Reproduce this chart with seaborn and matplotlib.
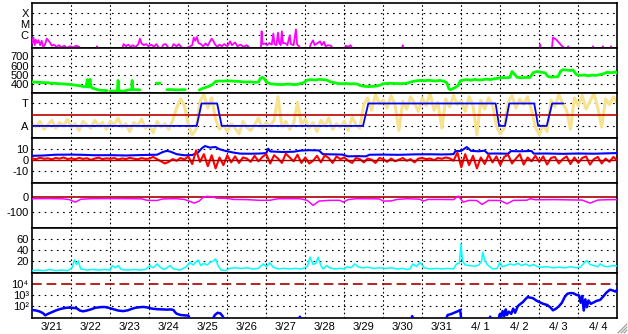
import numpy as np
import pandas as pd
import matplotlib
matplotlib.use('Agg')
import matplotlib.pyplot as plt
import seaborn as sns
from matplotlib.lines import Line2D

NaN = np.nan

# ---------------- data ----------------
day_labels = ['3/21', '3/22', '3/23', '3/24', '3/25', '3/26', '3/27', '3/28',
              '3/29', '3/30', '3/31', '4/ 1', '4/ 2', '4/ 3', '4/ 4']

# X-ray flux (log10 W/m2)
xray_t = [0.00, 0.03, 0.06, 0.09, 0.12, 0.16, 0.20, 0.24, 0.28, 0.33, 0.37, 0.42, 0.46, 0.50,
          0.55, 0.62, 0.68, 0.75, 0.82, 0.88, 0.97, 1.05, 1.12, 1.20, 1.26, 1.64, 1.66, 1.68,
          2.30, 2.34, 2.40, 2.46, 2.52, 2.58, 2.64, 2.72, 2.76, 2.80, 2.86, 2.92, 2.98, 3.05,
          3.12, 3.18, 3.24, 3.30, 3.36, 3.42, 3.48, 3.56, 3.62, 3.70, 3.76, 3.82, 3.92, 4.02,
          4.10, 4.14, 4.18, 4.22, 4.26, 4.32, 4.38, 4.44, 4.50, 4.55, 4.60, 4.64, 4.68, 4.74,
          4.80, 4.86, 4.92, 5.00, 5.07, 5.12, 5.20, 5.26, 5.34, 5.42, 5.50, 5.56, 5.60, 5.86,
          5.88, 5.90, 5.96, 6.02, 6.08, 6.14, 6.18, 6.21, 6.26, 6.30, 6.33, 6.37, 6.40, 6.43,
          6.48, 6.54, 6.60, 6.63, 6.70, 6.76, 6.79, 6.84, 6.88, 7.10, 7.14, 7.20, 7.24, 7.30,
          7.38, 7.42, 7.48, 7.52, 7.58, 7.66, 7.72, 8.00, 8.04, 8.10, 8.16, 8.22, 9.47, 9.50,
          9.53, 13.00, 13.02, 13.05, 13.32, 13.35, 13.43, 13.50, 13.56, 13.62, 13.68, 13.72,
          13.74, 13.77, 14.36, 14.38, 14.41, 14.61, 14.63, 14.66, 14.82, 14.84, 14.87, 15.00]
xray_v = [-6.7, -6.2, -6.9, -6.4, -6.7, -6.45, -6.9, -6.5, -7.1, -6.8, -6.3, -6.5, -6.7, -6.95,
          -6.85, -7.05, -6.9, -7.1, -6.95, -7.15, -7.0, -7.1, -6.95, -7.05, -7.3, -7.3, -7.0, -7.3,
          -7.3, -6.8, -7.0, -6.85, -7.05, -6.9, -7.1, -6.8, -6.3, -6.75, -6.9, -6.8, -7.0, -6.85,
          -7.05, -6.8, -7.1, -7.3, -6.85, -6.8, -7.1, -7.3, -6.8, -7.0, -6.8, -7.1, -7.2, -7.05,
          -6.9, -6.2, -6.5, -6.15, -6.7, -6.8, -7.0, -6.75, -6.95, -6.6, -6.3, -6.5, -6.8, -7.05,
          -6.85, -7.0, -6.8, -7.0, -6.55, -6.9, -6.65, -7.0, -6.85, -7.05, -6.9, -7.1, -7.3, -7.3,
          -5.63, -6.8, -6.75, -6.9, -6.7, -6.85, -5.84, -6.8, -6.9, -5.75, -6.7, -6.9, -5.63, -6.75,
          -6.7, -6.9, -6.0, -6.8, -6.9, -5.45, -6.85, -7.0, -7.3, -7.3, -6.8, -6.46, -6.9, -6.75,
          -6.55, -6.9, -6.6, -7.0, -6.9, -6.95, -7.3, -7.3, -6.95, -7.05, -6.9, -7.3, -7.3, -6.9,
          -7.3, -7.3, -6.83, -7.3, -7.3, -6.2, -6.37, -6.65, -6.9, -7.08, -7.3, -7.3,
          -7.0, -7.3, -7.3, -7.0, -7.3, -7.3, -7.0, -7.3, -7.3, -7.0, -7.3, -7.3]

# Solar wind speed (km/s)
speed_t = [0.00, 0.10, 0.20, 0.30, 0.40, 0.50, 0.60, 0.70, 0.80, 0.90, 1.00, 1.10, 1.20, 1.30,
           1.38, 1.41, 1.44, 1.48, 1.51, 1.55, 1.60, 1.66, 1.75, 1.85, 1.92, 1.93,
           2.00, 2.10, 2.18, 2.20, 2.22, 2.35, 2.46, 2.55, 2.56, 2.58, 2.70, 2.76, 2.77,
           3.18, 3.22, 3.27, 3.28, 3.45, 3.55, 3.65, 3.75, 3.85, 3.92, 3.93,
           4.28, 4.35, 4.45, 4.55, 4.63, 4.70, 4.80, 4.90, 5.00, 5.10, 5.20, 5.30, 5.40, 5.50,
           5.60, 5.70, 5.80, 5.85, 5.90, 5.95, 6.00, 6.10, 6.20, 6.30, 6.40, 6.50, 6.60, 6.70,
           6.80, 6.86, 6.95, 7.05, 7.15, 7.25, 7.35, 7.45, 7.55, 7.65, 7.75, 7.85, 7.95, 8.05,
           8.15, 8.25, 8.35, 8.40, 8.50, 8.60, 8.70, 8.80, 8.92, 9.00, 9.15, 9.30, 9.45, 9.60,
           9.76, 9.85, 9.95, 10.05, 10.15, 10.25, 10.35, 10.45, 10.55, 10.63, 10.68, 10.72, 10.78,
           10.85, 10.92, 10.97, 11.05, 11.15, 11.25, 11.35, 11.45, 11.55, 11.65, 11.75, 11.85,
           11.95, 12.05, 12.15, 12.25, 12.30, 12.35, 12.43, 12.55, 12.65, 12.76, 12.84, 12.94,
           13.05, 13.15, 13.22, 13.30, 13.40, 13.48, 13.55, 13.61, 13.70, 13.80, 13.86, 13.95,
           14.05, 14.15, 14.25, 14.35, 14.45, 14.56, 14.65, 14.74, 14.85, 14.95, 15.00]
speed_v = [420, 416, 414, 412, 410, 405, 403, 400, 398, 393, 390, 384, 378, 370,
           365, 445, 362, 448, 360, 350, 345, 335, 328, 326, 324, NaN,
           320, 319, 320, 436, 320, 318, 332, 334, 436, 334, 334, 332, NaN,
           407, 400, 407, NaN, 334, 336, 333, 332, 335, 334, NaN,
           330, 345, 360, 375, 395, 425, 430, 428, 432, 430, 426, 425, 420, 418,
           420, 415, 418, 460, 470, 455, 420, 400, 395, 392, 390, 394, 395, 390,
           392, 400, 410, 440, 445, 440, 448, 445, 440, 420, 410, 402, 400, 402,
           398, 400, 395, 380, 372, 368, 370, 372, 385, 400, 405, 402, 400, 405,
           425, 432, 436, 432, 438, 434, 430, 436, 428, 410, 345, 334, 345,
           360, 380, 430, 440, 445, 438, 448, 440, 444, 450, 445, 455,
           460, 468, 465, 470, 535, 510, 470, 465, 470, 468, 520, 535,
           525, 520, 480, 472, 475, 478, 540, 554, 550, 545, 552, 500,
           492, 495, 488, 494, 492, 500, 510, 525, 520, 530, 515]

# IMF sector polarity (T = +1, A = -1)
ta_t = [0.02, 4.215, 4.34, 4.74, 4.856, 8.48, 8.615, 11.88, 11.97, 12.12, 12.23,
        12.87, 12.97, 13.19, 13.33, 13.615]
ta_v = [-1, -1, 1, 1, -1, -1, 1, 1, -1, -1, 1, 1, -1, -1, 1, 1]

# raw polarity angle samples (yellow), every 0.1 day
yel_v = [-0.8, -1.1, -0.6, -1.3, -0.9, -0.5, -1.2, -0.7, -1.0, -0.4,
         -1.1, -0.8, -1.4, -0.6, -0.9, -1.2, -0.5, -1.0, -0.7, -1.3,
         -0.6, -0.9, -0.3, -1.1, -0.8, -1.5, -0.7, -1.0, -0.4, -1.2,
         -0.9, -1.6, -0.6, -1.1, -0.8, -1.3, -0.5, 0.6, 1.4, 0.8,
         -0.9, -1.8, -1.3,
         1.2, 1.8, 0.6, 1.5,
         -0.4, -1.3, -0.9,
         -1.5, -0.8, -1.2, -1.7, -0.6, -1.1, -1.4, -0.9, -0.3, -1.2,
         -0.7, -1.0, -0.5, 1.6, -1.1, -0.6, -1.3, -0.8, 1.1, -0.9,
         -0.4, -1.2, -0.7, -1.5, -0.5, -1.0, -0.3, -1.3, -0.8, -1.1,
         -0.6, -1.4, -0.2, -0.9, -1.2,
         0.9, 1.5, 0.4, 1.8, 1.0,
         1.3, 0.6, 1.7, 0.9, -1.4, 1.2, 0.5, 1.6, 1.0, 0.3,
         1.5, 0.8, 1.9, 0.4, 1.1, -1.2, 1.4, 0.7, 1.7, 0.9,
         1.2, 0.3, 1.6, 0.8, -1.8, 1.3, 0.5, 1.5, 0.9,
         -1.0, -1.7, -1.2,
         1.1, 1.7, 0.6, 1.4, 0.9, 1.6, 0.4,
         -1.1, -1.8, -0.9, -1.5,
         1.3, 0.7, 1.8, 1.0, 0.4, -1.3, 1.5, 0.8, 1.7, 0.5, 1.2, 1.9, 0.6, -1.1, 1.4, 0.9, 1.6, 1.0]

# IMF |B| (blue) and Bz (red), nT
bt_t = [0.0, 0.3, 0.6, 1.0, 1.3, 1.6, 2.0, 2.4, 2.8, 3.2, 3.35, 3.45, 3.55, 3.7, 3.9, 4.1, 4.25,
        4.35, 4.43, 4.55, 4.7, 4.8, 4.95, 5.15, 5.33, 5.6, 5.85, 6.0, 6.05, 6.1, 6.4, 6.7, 6.86,
        7.1, 7.35, 7.45, 7.7, 7.95, 8.1, 8.35, 8.55, 8.65, 9.0, 9.4, 9.8, 10.2, 10.5, 10.8,
        10.85, 11.0, 11.14, 11.25, 11.45, 11.6, 11.68, 11.9, 12.2, 12.27, 12.5, 12.8, 12.86,
        13.2, 13.6, 14.0, 14.4, 14.7, 15.0]
bt_v = [3.5, 3.8, 4.5, 4.6, 4.4, 4.0, 4.1, 3.8, 4.2, 4.5, 7.0, 8.0, 7.2, 5.0, 4.0, 4.2, 6.5,
        10.5, 12.4, 11.0, 11.5, 9.5, 8.0, 6.5, 5.5, 5.4, 5.6, 6.0, 10.0, 7.5, 7.0, 7.2, 8.2,
        8.6, 8.4, 5.0, 4.8, 4.6, 3.0, 3.2, 3.0, 4.5, 4.6, 4.4, 4.8, 4.9, 4.7, 5.0,
        7.8, 8.0, 11.5, 8.0, 7.6, 8.2, 5.5, 5.6, 5.4, 7.8, 7.6, 7.9, 5.5,
        5.6, 5.3, 5.6, 5.4, 5.7, 6.0]
bz_v = [1.0, 0.5, 1.8, 0.8, 1.2, 0.3, 1.5, 0.9, 2.0, 0.6, 1.1, 0.4, 1.6, 0.7, 1.3,
        -0.2, 1.0, 1.8, 0.5, 1.2, 0.8, 1.5, 0.2, 1.1, 0.6, 1.7, 0.9, 0.3, 1.4, 0.7,
        1.0, 2.5, 0.4, -1.5, -3.5, -2.0, 0.5, -1.0, 1.5, 0.2,
        3.0, -4.0, 8.5, -2.0, 5.0, -6.0, 4.0, -8.0, 2.0, -5.0,
        4.0, -2.5, 3.0, -3.0, 2.0, 1.0, -2.0, 3.5, -1.5, 2.5,
        5.0, -3.5, 4.0, 1.0, -3.0, 5.5, 2.0, -1.5, 4.5, -3.0,
        2.0, -3.5, -1.0, 3.5, -2.5, 4.0, 1.5, -3.0, 3.0, 0.5,
        2.0, -1.0, -3.0, 1.5, 0.5, -2.5, 1.0, 0.0, -3.0, 1.5,
        0.5, -2.0, 1.0, -1.5, 0.0, 1.5, -1.0, 0.5, -2.5, 1.0,
        1.5, 0.5, 1.0, -0.5, 1.5, 0.8, 2.0, 1.2, -1.0, 6.5,
        -7.0, 5.0, -5.0, 3.5, -8.0, 2.0, -4.0, 4.5, -2.5, 3.0,
        -5.0, 2.5, 4.5, -3.5, 1.0, 5.0, -4.5, 2.0, -1.5, 3.5,
        -2.0, 3.0, -4.5, 1.5, 2.5, -3.5, 0.5, 3.0, -4.0, 2.0,
        -3.0, 1.5, 3.0, -4.5, 0.5, 2.5, -3.5, 1.0, -2.0, 2.5, -1.0]

# Dst index (nT)
dst_t = [0.0, 0.4, 0.8, 0.95, 1.1, 1.25, 1.5, 2.0, 2.5, 2.8, 2.95, 3.2, 3.35, 3.7, 3.9, 4.05,
         4.15, 4.28, 4.38, 4.47, 4.6, 4.73, 5.0, 5.16, 5.5, 5.84, 6.1, 6.3, 6.86, 7.05, 7.2,
         7.35, 7.6, 7.89, 7.97, 8.1, 8.3, 8.9, 9.0, 9.2, 9.35, 9.6, 9.94, 10.02, 10.15, 10.5,
         10.8, 10.92, 11.05, 11.2, 11.4, 11.53, 11.7, 12.0, 12.17, 12.34, 12.68, 12.77, 12.9,
         13.4, 13.8, 14.1, 14.3, 14.5, 14.7, 15.0]
dst_v = [-9, -8, -10, -15, -32, -12, -9, -8, -9, -10, -20, -21, -10, -9, -14, -28,
         -39, -25, 0, 7, 5, -5, -7, -14, -15, -20, -19, -9, -9, -20, -54,
         -25, -20, -20, -32, -15, -9, -10, -25, -24, -14, -9, -12, -25, -14, -14,
         -15, 9, -32, -20, -21, -48, -20, -21, -43, -20, -19, -9, -16,
         -15, -17, -18, -39, -18, -16, -15]

# Solar wind density (p/cc)
dens_t = [0.0, 0.15, 0.3, 0.45, 0.6, 0.75, 0.9, 1.02, 1.08, 1.13, 1.18, 1.24, 1.4, 1.55, 1.7,
          1.85, 2.0, 2.05, 2.12, 2.2, 2.28, 2.45, 2.6, 2.75, 2.9, 3.02, 3.1, 3.2, 3.28, 3.37,
          3.45, 3.53, 3.62, 3.79, 3.95, 4.04, 4.12, 4.25, 4.32, 4.4, 4.48, 4.56, 4.64, 4.7,
          4.76, 4.84, 4.95, 5.05, 5.2, 5.35, 5.5, 5.65, 5.8, 5.92, 6.0, 6.09, 6.18, 6.3, 6.45,
          6.6, 6.75, 6.9, 7.05, 7.12, 7.2, 7.27, 7.33, 7.4, 7.46, 7.55, 7.62, 7.75, 7.9, 8.0,
          8.07, 8.17, 8.27, 8.35, 8.45, 8.6, 8.75, 8.9, 9.05, 9.2, 9.35, 9.5, 9.6, 9.68, 9.76,
          9.85, 9.94, 10.05, 10.2, 10.35, 10.5, 10.65, 10.8, 10.88, 10.95, 10.99, 11.03, 11.1,
          11.2, 11.35, 11.45, 11.52, 11.55, 11.6, 11.66, 11.8, 11.92, 11.99, 12.05, 12.15,
          12.25, 12.35, 12.45, 12.55, 12.65, 12.75, 12.85, 12.95, 13.05, 13.2, 13.35, 13.5,
          13.65, 13.8, 13.95, 14.05, 14.15, 14.22, 14.3, 14.4, 14.5, 14.56, 14.65, 14.75,
          14.89, 15.0]
dens_v = [3, 4, 3, 5, 3, 4, 3, 8, 22, 14, 20, 6, 4, 5, 4,
          5, 4, 12, 8, 12, 5, 4, 5, 4, 5, 12, 8, 15, 9, 5,
          8, 12, 6, 4, 10, 18, 13, 22, 12, 16, 13, 18, 20, 24,
          12, 4, 3, 7, 8, 7, 8, 6, 7, 15, 10, 17, 9, 6, 7,
          6, 7, 6, 10, 27, 14, 16, 27, 12, 6, 12, 8, 6, 7, 6,
          10, 8, 15, 10, 8, 9, 7, 8, 7, 8, 6, 7, 5, 6, 15,
          10, 18, 8, 6, 7, 6, 7, 6, 15, 16, 51, 20, 13,
          12, 11, 13, 20, 36, 22, 14, 6, 7, 18, 10, 12,
          15, 13, 16, 12, 15, 11, 14, 10, 9, 10, 8, 9,
          8, 10, 8, 9, 17, 21, 14, 12, 10, 15, 11, 10,
          12, 11]

# >2 MeV electron flux (log10)
elec_t = [0.0, 0.1, 0.2, 0.28, 0.33, 0.4, 0.5, 0.6, 0.71, 0.8, 0.9, 1.0, 1.14, 1.22, 1.3, 1.4,
          1.5, 1.62, 1.74, 1.85, 1.95, 2.1, 2.2, 2.33, 2.45, 2.55, 2.65, 2.76, 2.85, 2.94, 3.05,
          3.2, 3.35, 3.45, 3.55, 3.62, 3.66, 3.7, 3.8, 3.9, 4.0, 4.05, 4.06,
          4.62, 4.68, 4.75, 4.82, 4.88, 4.92, 4.93,
          6.84, 6.86, 6.88, 6.89,
          9.72, 9.74, 9.76, 9.77,
          10.6, 10.65, 10.75, 10.85, 10.92, 10.97, 11.0, 11.01,
          11.72, 11.74, 11.76, 11.95, 11.99, 12.02, 12.06, 12.1, 12.14, 12.17, 12.22, 12.28,
          12.33, 12.38, 12.45, 12.52, 12.58, 12.64, 12.7, 12.77, 12.84, 12.92, 13.0, 13.1,
          13.2, 13.28, 13.35, 13.42, 13.5, 13.58, 13.65, 13.72, 13.8, 13.87, 13.95, 14.02,
          14.06, 14.1, 14.14, 14.18, 14.22, 14.26, 14.32, 14.38, 14.46, 14.56, 14.65, 14.72,
          14.81, 14.88, 14.95, 15.0]
elec_v = [1.65, 1.6, 1.5, 1.35, 1.17, 1.3, 1.45, 1.6, 1.73, 1.8, 1.86, 1.85, 1.8, 1.6, 1.53, 1.6,
          1.7, 1.85, 1.9, 1.92, 1.85, 1.7, 1.6, 1.55, 1.62, 1.75, 1.85, 1.9, 1.92, 1.88, 1.78,
          1.72, 1.7, 1.68, 1.7, 1.65, 1.45, 1.32, 1.2, 1.17, 1.15, 0.8, NaN,
          0.8, 1.2, 1.4, 1.35, 1.1, 0.8, NaN,
          0.8, 1.05, 0.8, NaN,
          0.8, 1.1, 0.8, NaN,
          0.8, 1.2, 1.3, 1.45, 1.55, 1.65, 0.8, NaN,
          0.8, 1.05, 0.8, 0.8, 1.3, 1.0, 1.55, 1.1, 1.7, 1.2, 1.5, 1.3,
          1.77, 1.4, 2.0, 2.2, 2.36, 2.6, 2.8, 2.75, 2.7, 2.5, 2.36, 2.2,
          2.1, 1.9, 1.62, 1.75, 1.97, 2.3, 2.8, 3.1, 3.16, 3.15, 3.0, 2.95,
          2.3, 2.9, 1.6, 2.6, 1.9, 2.5, 2.2, 2.3, 2.45, 2.55, 2.9, 3.2,
          3.46, 3.4, 3.3, 3.45]

# ---------------- styling ----------------
sns.set_theme(style='white')
plt.rcParams['font.family'] = ['Liberation Sans', 'DejaVu Sans']
plt.rcParams['lines.scale_dashes'] = False

W, H = 628, 334
fig = plt.figure(figsize=(W / 100, H / 100), dpi=100)
fig.patch.set_facecolor('white')

x0, x1 = 32.3, 617.3
ytop, ph = 2.7, 45.0
axes = []
for i in range(7):
    b = 1 - (ytop + ph * (i + 1)) / H
    ax = fig.add_axes([x0 / W, b, (x1 - x0) / W, ph / H])
    ax.set_facecolor('white')
    axes.append(ax)

DOT_H = (0, (1.2, 3.2))
DOT_V = (0, (1.2, 1.8))
DARKRED = '#a80000'


def style(ax, ylim, ticks, labels, grid_vals, fs=8):
    ax.set_xlim(0, 15)
    ax.set_ylim(*ylim)
    ax.set_yticks(ticks)
    ax.set_yticklabels(labels)
    ax.tick_params(axis='y', length=0, pad=2.5, labelsize=fs, colors='black')
    ax.tick_params(axis='x', length=0, labelbottom=False)
    for v in grid_vals:
        ax.axhline(v, color='black', lw=0.8, ls=DOT_H, zorder=0.5)
    for d in range(1, 15):
        ax.axvline(d, color='black', lw=0.8, ls=DOT_V, zorder=0.5)
    for s in ax.spines.values():
        s.set_color('black')
        s.set_linewidth(1.2)
        s.set_visible(True)
    ax.grid(False)


def line(ax, t, v, color, lw, z=3):
    t = np.asarray(t, float)
    v = np.asarray(v, float)
    seg = np.cumsum(np.isnan(v))
    df = pd.DataFrame({'t': t, 'v': v, 'seg': seg}).dropna()
    sns.lineplot(data=df, x='t', y='v', units='seg', estimator=None, sort=False,
                 color=color, lw=lw, ax=ax, legend=False, zorder=z)
    ax.set_xlabel('')
    ax.set_ylabel('')


# 1 X-ray
ax = axes[0]
line(ax, xray_t, xray_v, '#ff00ff', 1.3)
style(ax, (-7.13, -3.02), [-4, -5, -6], ['X', 'M', 'C'], [-4, -5, -6])

# 2 speed
ax = axes[1]
line(ax, speed_t, speed_v, '#00ff00', 2.0)
style(ax, (301, 796), [400, 500, 600, 700], ['400', '500', '600', '700'], [400, 500, 600, 700])

# 3 sector
ax = axes[2]
yel_t = np.round(np.arange(len(yel_v)) * 0.1, 1)
line(ax, yel_t, yel_v, '#f8e28e', 2.2, z=2)
ax.axhline(0, color='#c00000', lw=1.2, zorder=3)
line(ax, ta_t, ta_v, '#0000ff', 1.3, z=4)
style(ax, (-2.05, 1.96), [1, -1], ['T', 'A'], [1, -1])

# 4 IMF
ax = axes[3]
bz_t = np.round(np.arange(len(bz_v)) * 0.1, 1)
line(ax, bt_t, bt_v, '#0000ff', 1.5, z=3)
line(ax, bz_t, bz_v, '#ff0000', 1.5, z=4)
ax.axhline(0, color=DARKRED, lw=1.0, zorder=5)
style(ax, (-21, 20), [10, 0, -10], ['10', '0', '-10'], [10, -10])

# 5 Dst
ax = axes[4]
ax.axhline(0, color=DARKRED, lw=1.2, zorder=2)
line(ax, dst_t, dst_v, '#ff00ff', 1.1, z=3)
style(ax, (-206, 100), [0, -100], ['0', '-100'], [-100])

# 6 density
ax = axes[5]
line(ax, dens_t, dens_v, '#00ffff', 1.1)
style(ax, (-0.7, 79.6), [20, 40, 60], ['20', '40', '60'], [20, 40, 60])

# 7 electrons
ax = axes[6]
ax.axhline(4, color=DARKRED, lw=1.2, ls=(0, (7, 3.5)), zorder=2)
line(ax, elec_t, elec_v, '#0000ff', 1.8)
style(ax, (0.96, 4.98), [4, 3, 2], ['10\u2074', '10\u00b3', '10\u00b2'], [3, 2], fs=8)
ax.set_xticks(np.arange(15) + 0.5)
ax.set_xticklabels(day_labels)
ax.tick_params(axis='x', length=0, labelbottom=True, pad=3, labelsize=8, colors='black')

# resize grip (bottom-right)
for (a, b_) in [((618, 333), (627, 324)), ((621, 333), (627, 327)), ((624, 333), (627, 330))]:
    fig.add_artist(Line2D([a[0] / W, b_[0] / W], [1 - a[1] / H, 1 - b_[1] / H],
                          transform=fig.transFigure, color='#a0a0a0', lw=0.9))

fig.savefig('out.png', dpi=100)
